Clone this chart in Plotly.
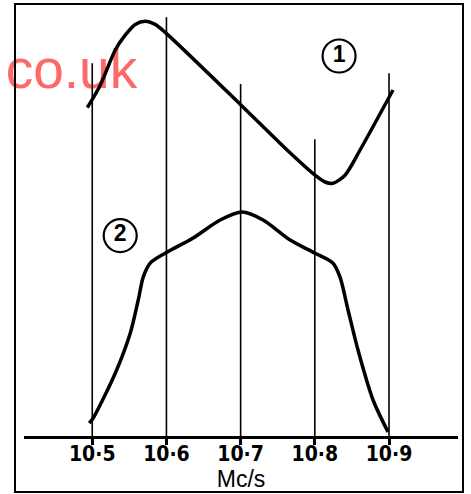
import plotly.graph_objects as go

# frequency ticks (Mc/s)
tick_vals = [10.5, 10.6, 10.7, 10.8, 10.9]
tick_text = ["10·5", "10·6", "10·7", "10·8", "10·9"]
# top of each vertical reference line (arbitrary response units)
grid_top = [93.2, 104.7, 88.0, 74.2, 90.7]

# curve 1
c1_x = [10.4933, 10.5108, 10.531, 10.5444, 10.5579, 10.5714, 10.5848, 10.5983,
        10.7007, 10.7626, 10.8003, 10.8138, 10.8246, 10.8407, 10.861, 10.9054]
c1_y = [82.1, 87.7, 96.5, 100.2, 102.9, 103.7, 102.9, 100.9,
        82.7, 71.5, 65.2, 63.5, 63.2, 65.2, 71.5, 86.5]
# curve 2
c2_x = [10.496, 10.5013, 10.531, 10.5512, 10.562, 10.5687, 10.5781, 10.5983, 10.636,
        10.6724, 10.702, 10.7303, 10.7667, 10.8003, 10.8246, 10.834, 10.8448, 10.8582,
        10.8785, 10.8987]
c2_y = [3.2, 4.5, 15.7, 25.7, 34.0, 39.7, 43.2, 45.7, 49.5,
        54.0, 56.0, 54.0, 49.0, 45.7, 43.2, 39.7, 31.5, 21.5,
        9.0, 1.0]

label_text = ["<b>1</b>", "<b>2</b>"]
label_x = [10.8327, 10.5377]
label_y = [95.0, 50.1]

fig = go.Figure()

# watermark (beneath everything)
fig.add_trace(go.Scatter(x=[10.5606], y=[90.5], mode="text", text=["co.uk"],
                         textposition="middle left", cliponaxis=False,
                         textfont=dict(family="Liberation Sans, Arial", size=55, color="#ff6868"),
                         hoverinfo="skip", showlegend=False))

gx, gy = [], []
for xv, top in zip(tick_vals, grid_top):
    gx += [xv, xv, None]
    gy += [0, top, None]
fig.add_trace(go.Scatter(x=gx, y=gy, mode="lines", line=dict(color="black", width=1.6),
                         hoverinfo="skip", showlegend=False))

for xs, ys in [(c1_x, c1_y), (c2_x, c2_y)]:
    fig.add_trace(go.Scatter(x=xs, y=ys, mode="lines",
                             line=dict(color="black", width=3.5, shape="spline", smoothing=0.8),
                             hoverinfo="skip", showlegend=False))

fig.add_trace(go.Scatter(x=label_x, y=label_y, mode="markers+text", text=label_text,
                         textposition="middle center",
                         marker=dict(symbol="circle-open", size=33, color="black",
                                     line=dict(width=2.2, color="black")),
                         textfont=dict(family="Liberation Sans, Arial", size=23, color="black"),
                         cliponaxis=False, hoverinfo="skip", showlegend=False))

fig.update_layout(
    width=471, height=494,
    margin=dict(l=24, r=13, t=4, b=58),
    paper_bgcolor="white", plot_bgcolor="white",
    xaxis=dict(range=[10.408, 10.993], tickvals=tick_vals, ticktext=tick_text,
               showgrid=False, zeroline=False, showline=True, linecolor="black", linewidth=2.5,
               ticks="outside", ticklen=6, tickwidth=3, tickcolor="black",
               ticklabelstandoff=-9,
               tickfont=dict(family="Liberation Sans Narrow, Arial Narrow, DejaVu Sans Condensed, Arial",
                             size=21, color="black", weight="bold"),
               title=dict(text="Mc/s", standoff=0,
                          font=dict(family="Liberation Sans, Arial", size=23, color="black")),
               automargin=False, fixedrange=True),
    yaxis=dict(range=[0, 108], visible=False, fixedrange=True),
    shapes=[dict(type="rect", xref="paper", yref="paper",
                 x0=-0.0207, x1=1.0115, y0=-0.1296, y1=1.0,
                 line=dict(color="black", width=2), fillcolor="rgba(0,0,0,0)", layer="above")],
)

fig.write_html("out.html", config={"displayModeBar": False},
               post_script="document.body.style.margin='0';document.body.style.overflow='hidden';")
